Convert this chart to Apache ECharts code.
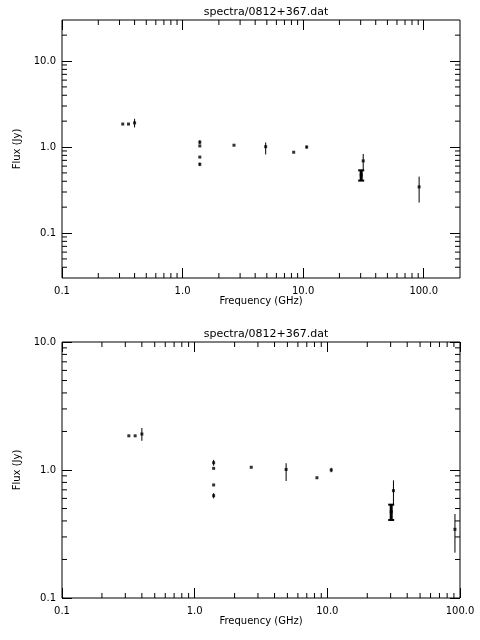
<!DOCTYPE html>
<html>
<head>
<meta charset="utf-8">
<script src="https://cdn.jsdelivr.net/npm/echarts@6/dist/echarts.min.js"></script>
<style>html,body{margin:0;padding:0;background:#fff}#chart{width:480px;height:640px}</style>
</head>
<body>
<div id="chart"></div>
<script>
// data
var freq   = [0.319, 0.356, 0.40, 1.39, 1.39, 1.39, 1.39, 2.67, 4.89, 8.35, 10.7, 30.3, 31.5, 91.6];
var flux   = [1.85, 1.85, 1.91, 1.14, 1.03, 0.764, 0.63, 1.05, 1.01, 0.87, 1.0, 0.472, 0.69, 0.344];
var errLo  = [null, null, 1.69, 1.08, null, null, 0.60, null, 0.82, null, 0.96, 0.407, 0.536, 0.226];
var errHi  = [null, null, 2.13, 1.20, null, null, 0.66, null, 1.13, null, 1.04, 0.536, 0.83, 0.453];
var thick  = [0, 0, 0, 0, 0, 0, 0, 0, 0, 0, 0, 1, 0, 0];
var xTicks = [0.1, 1, 10, 100];
var yTicks = [0.1, 1, 10];
var title = 'spectra/0812+367.dat';

var chartDom = document.getElementById('chart');
var myChart = echarts.init(chartDom);
var font = 'DejaVu Sans';

function minorList(lo, hi) {
  var out = [];
  for (var d = 0.01; d <= 1000; d *= 10) {
    for (var k = 2; k <= 9; k++) {
      var v = +(k * d).toPrecision(3);
      if (v > lo && v < hi) out.push(v);
    }
  }
  return out;
}

function fmt(v) { return (+v).toFixed(1); }

var grids = [
  { left: 62, right: 20, top: 20, height: 258, xr: [0.1, 200], yr: [0.03, 30] },
  { left: 62, right: 20, top: 342, height: 256, xr: [0.1, 100], yr: [0.1, 10] }
];

var option = { backgroundColor: '#fff', animation: false, title: [], grid: [], xAxis: [], yAxis: [], series: [] };

grids.forEach(function (g, i) {
  option.grid.push({ left: g.left, right: g.right, top: g.top, height: g.height, show: true, borderColor: '#000', borderWidth: 1 });
  option.title.push({ text: title, left: 261, top: g.top - 18, textAlign: 'center',
    textStyle: { fontFamily: font, fontSize: 11, fontWeight: 'normal', color: '#000' } });
  var xt = xTicks.filter(function (v) { return v >= g.xr[0] && v <= g.xr[1]; });
  var yt = yTicks.filter(function (v) { return v >= g.yr[0] && v <= g.yr[1]; });
  var base = {
    type: 'log', logBase: 10, gridIndex: i,
    axisLine: { show: false }, splitLine: { show: false }
  };
  function tick(vals) { return { show: true, inside: true, length: 10, customValues: vals, lineStyle: { color: '#000' } }; }
  function label(vals, m) { return { customValues: vals, formatter: fmt, fontFamily: font, fontSize: 10, color: '#000', margin: m }; }
  option.xAxis.push(Object.assign({}, base, {
    min: g.xr[0], max: g.xr[1], position: 'bottom', axisTick: tick(xt), axisLabel: label(xt, 8),
    name: 'Frequency (GHz)', nameLocation: 'middle', nameGap: 18,
    nameTextStyle: { fontFamily: font, fontSize: 10, color: '#000' }
  }));
  option.xAxis.push(Object.assign({}, base, { min: g.xr[0], max: g.xr[1], position: 'top', axisTick: tick(xt), axisLabel: { show: false } }));
  option.yAxis.push(Object.assign({}, base, {
    min: g.yr[0], max: g.yr[1], position: 'left', axisTick: tick(yt), axisLabel: label(yt, 6),
    name: 'Flux (Jy)', nameLocation: 'middle', nameGap: 34,
    nameTextStyle: { fontFamily: font, fontSize: 10, color: '#000' }
  }));
  option.yAxis.push(Object.assign({}, base, { min: g.yr[0], max: g.yr[1], position: 'right', axisTick: tick(yt), axisLabel: { show: false } }));

  var xi = i * 2, yi = i * 2;
  // minor ticks on all four sides
  var mx = minorList(g.xr[0], g.xr[1]), my = minorList(g.yr[0], g.yr[1]);
  option.series.push({
    type: 'custom', xAxisIndex: xi, yAxisIndex: yi, silent: true,
    data: mx.map(function (v) { return [v, g.yr[0]]; }),
    renderItem: function (params, api) {
      var p = api.coord([api.value(0), g.yr[0]]);
      var q = api.coord([api.value(0), g.yr[1]]);
      return { type: 'group', children: [
        { type: 'line', shape: { x1: p[0], y1: p[1], x2: p[0], y2: p[1] - 5 }, style: { stroke: '#000', lineWidth: 1 } },
        { type: 'line', shape: { x1: q[0], y1: q[1], x2: q[0], y2: q[1] + 5 }, style: { stroke: '#000', lineWidth: 1 } }
      ] };
    }
  });
  option.series.push({
    type: 'custom', xAxisIndex: xi, yAxisIndex: yi, silent: true,
    data: my.map(function (v) { return [g.xr[0], v]; }),
    renderItem: function (params, api) {
      var p = api.coord([g.xr[0], api.value(1)]);
      var q = api.coord([g.xr[1], api.value(1)]);
      return { type: 'group', children: [
        { type: 'line', shape: { x1: p[0], y1: p[1], x2: p[0] + 5, y2: p[1] }, style: { stroke: '#000', lineWidth: 1 } },
        { type: 'line', shape: { x1: q[0], y1: q[1], x2: q[0] - 5, y2: q[1] }, style: { stroke: '#000', lineWidth: 1 } }
      ] };
    }
  });
  // error bars
  option.series.push({
    type: 'custom', xAxisIndex: xi, yAxisIndex: yi, silent: true,
    data: freq.map(function (f, j) { return [f, errLo[j] || flux[j], errHi[j] || flux[j], thick[j]]; }),
    renderItem: function (params, api) {
      var lo = api.coord([api.value(0), api.value(1)]);
      var hi = api.coord([api.value(0), api.value(2)]);
      var w = api.value(3) ? 3 : 1;
      var ch = [{ type: 'line', shape: { x1: lo[0], y1: lo[1], x2: hi[0], y2: hi[1] }, style: { stroke: '#000', lineWidth: w } }];
      if (api.value(3)) {
        ch.push({ type: 'line', shape: { x1: lo[0] - 3, y1: lo[1], x2: lo[0] + 3, y2: lo[1] }, style: { stroke: '#000', lineWidth: 2 } });
        ch.push({ type: 'line', shape: { x1: hi[0] - 3, y1: hi[1], x2: hi[0] + 3, y2: hi[1] }, style: { stroke: '#000', lineWidth: 2 } });
      }
      return { type: 'group', children: ch };
    }
  });
  option.series.push({
    type: 'scatter', xAxisIndex: xi, yAxisIndex: yi, silent: true,
    symbol: 'rect', symbolSize: 3, itemStyle: { color: '#000' },
    data: freq.map(function (f, j) { return [f, flux[j]]; })
  });
});

option && myChart.setOption(option);
window.addEventListener('resize', function () { myChart.resize(); });
</script>
</body>
</html>
